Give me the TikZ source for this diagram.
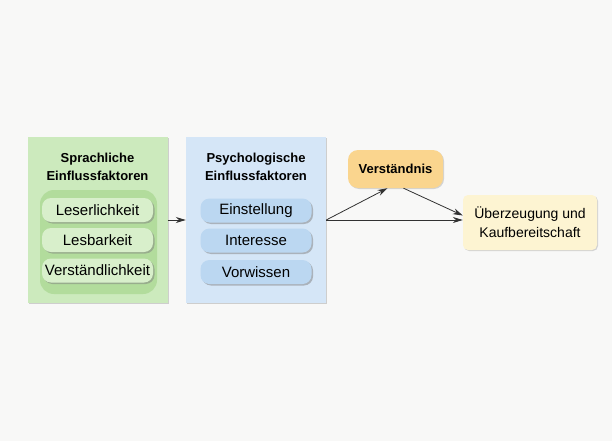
\documentclass[tikz,border=0pt]{standalone}
\usepackage{fontspec}
\setmainfont{Liberation Sans}
\usetikzlibrary{arrows.meta,positioning,shadows}
\definecolor{paper}{RGB}{248,248,247}
\definecolor{boxgreen}{RGB}{204,234,189}
\definecolor{padgreen}{RGB}{178,220,156}
\definecolor{pillgreen}{RGB}{216,239,203}
\definecolor{boxblue}{RGB}{213,230,247}
\definecolor{pillblue}{RGB}{187,215,241}
\definecolor{boxorange}{RGB}{250,213,142}
\definecolor{boxcream}{RGB}{253,244,210}
\definecolor{darkline}{RGB}{50,50,50}
\begin{document}
\begin{tikzpicture}[x=1pt,y=-1pt,
    panel/.style={minimum width=140pt, minimum height=166pt, inner sep=0pt,
        drop shadow={shadow xshift=1pt, shadow yshift=-1pt, opacity=.35}},
    headline/.style={align=center, font=\bfseries\fontsize{13}{18}\selectfont},
    pill/.style={rounded corners=9pt, minimum width=111pt, minimum height=24pt,
        inner sep=0pt, font=\fontsize{15}{16}\selectfont,
        drop shadow={shadow xshift=1.5pt, shadow yshift=-1.5pt, opacity=.5}},
    flow/.style={darkline, line width=0.8pt, -{Stealth[length=10pt,width=6pt]}}]
    \useasboundingbox[fill=paper] (0,0) rectangle (612,441);
    % --- Sprachliche Einflussfaktoren (links) ---
    \node[panel, fill=boxgreen] (green) at (97.5,220) {};
    \node[headline] (greenhead) at (97.5,167) {Sprachliche\\Einflussfaktoren};
    \fill[padgreen, rounded corners=14pt] (40,190) rectangle (157,294);
    \foreach \py/\txt [count=\i] in {210/Leserlichkeit,240/Lesbarkeit,270.5/Verständlichkeit} {
        \node[pill, fill=pillgreen] (sp\i) at (97.5,\py) {\txt};
    }
    % --- Psychologische Einflussfaktoren (mitte) ---
    \node[panel, fill=boxblue] (blue) at (256,220) {};
    \node[headline] (bluehead) at (256,167) {Psychologische\\Einflussfaktoren};
    \foreach \py/\txt [count=\i] in {210.5/Einstellung,240.5/Interesse,272/Vorwissen} {
        \node[pill, fill=pillblue] (ps\i) at (256,\py) {\txt};
    }
    % --- Wirkung (rechts) ---
    \node[fill=boxorange, rounded corners=10pt, minimum width=95pt, minimum height=38pt,
        font=\bfseries\fontsize{13}{15}\selectfont,
        drop shadow={shadow xshift=1pt, shadow yshift=-1pt, opacity=.3}] (verst) at (395.5,169) {Verständnis};
    \node[fill=boxcream, rounded corners=5pt, minimum width=134pt, minimum height=55pt,
        align=center, font=\fontsize{14}{19}\selectfont,
        drop shadow={shadow xshift=1pt, shadow yshift=-1pt, opacity=.3}] (ueber) at (530,222.5)
        {Überzeugung und\\Kaufbereitschaft};
    % Pfeile
    \draw[flow] (green.east) -- (blue.west);
    \draw[flow] (blue.east) -- ([xshift=-8pt]verst.south);
    \draw[flow] ([xshift=8pt]verst.south) -- ([yshift=7pt]ueber.west);
    \draw[flow] (blue.east) -- (blue.east -| ueber.west);
\end{tikzpicture}
\end{document}
